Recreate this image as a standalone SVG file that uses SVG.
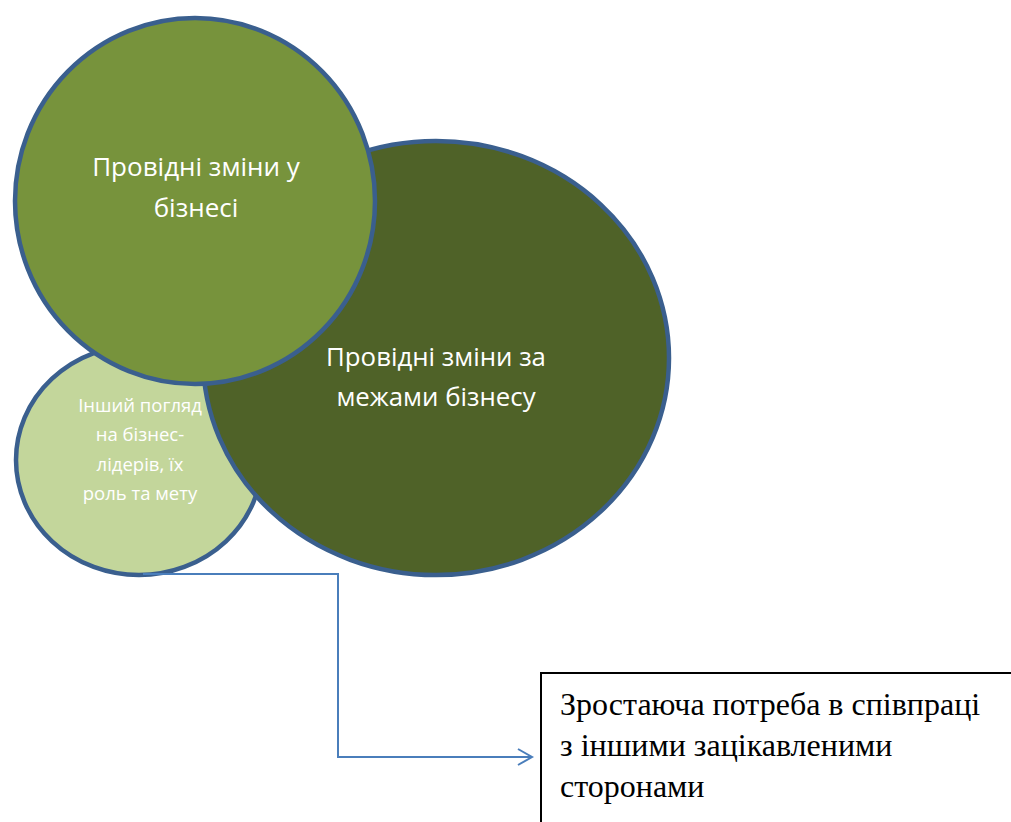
<svg xmlns="http://www.w3.org/2000/svg" width="1011" height="822" viewBox="0 0 1011 822">
<style>
.c{stroke:#3a5f8e;stroke-width:4.5}
.w{fill:#ffffff;font-family:"Open Sans","Liberation Sans",sans-serif;text-anchor:middle}
.t{fill:#000;font-family:"Liberation Serif",serif;font-size:32px}
</style>
<defs>
<marker id="ah" markerWidth="20" markerHeight="20" refX="16" refY="10" orient="auto" markerUnits="userSpaceOnUse">
<path d="M2,2 L16,10 L2,18" fill="none" stroke="#4a7ebb" stroke-width="2"/>
</marker>
</defs>
<rect width="1011" height="822" fill="#fff"/>
<g id="node-other-view">
<ellipse class="c" cx="139" cy="460" rx="123" ry="115" fill="#c3d69b"/>
<text class="w" font-size="18.5" x="140" y="412">Інший погляд</text>
<text class="w" font-size="18.5" x="140" y="441">на бізнес-</text>
<text class="w" font-size="18.5" x="140" y="471">лідерів, їх</text>
<text class="w" font-size="18.5" x="140" y="500">роль та мету</text>
</g>
<g id="node-outside">
<ellipse class="c" cx="436" cy="358" rx="233" ry="217" fill="#4f6228"/>
<text class="w" font-size="25.8" x="436" y="366">Провідні зміни за</text>
<text class="w" font-size="25.8" x="436" y="406">межами бізнесу</text>
</g>
<g id="node-inside">
<ellipse class="c" cx="195" cy="201" rx="180" ry="183" fill="#77933c"/>
<text class="w" font-size="26" x="196" y="176">Провідні зміни у</text>
<text class="w" font-size="26" x="196" y="217">бізнесі</text>
</g>
<g id="connectors">
<path d="M143,574 H338 V757 H532" fill="none" stroke="#4a7ebb" stroke-width="2" marker-end="url(#ah)"/>
</g>
<g id="node-need">
<rect x="541" y="673" width="480" height="160" fill="#fff" stroke="#000" stroke-width="2"/>
<text class="t" x="560" y="715">Зростаюча потреба в співпраці</text>
<text class="t" x="560" y="756">з іншими зацікавленими</text>
<text class="t" x="560" y="797">сторонами</text>
</g>
</svg>
